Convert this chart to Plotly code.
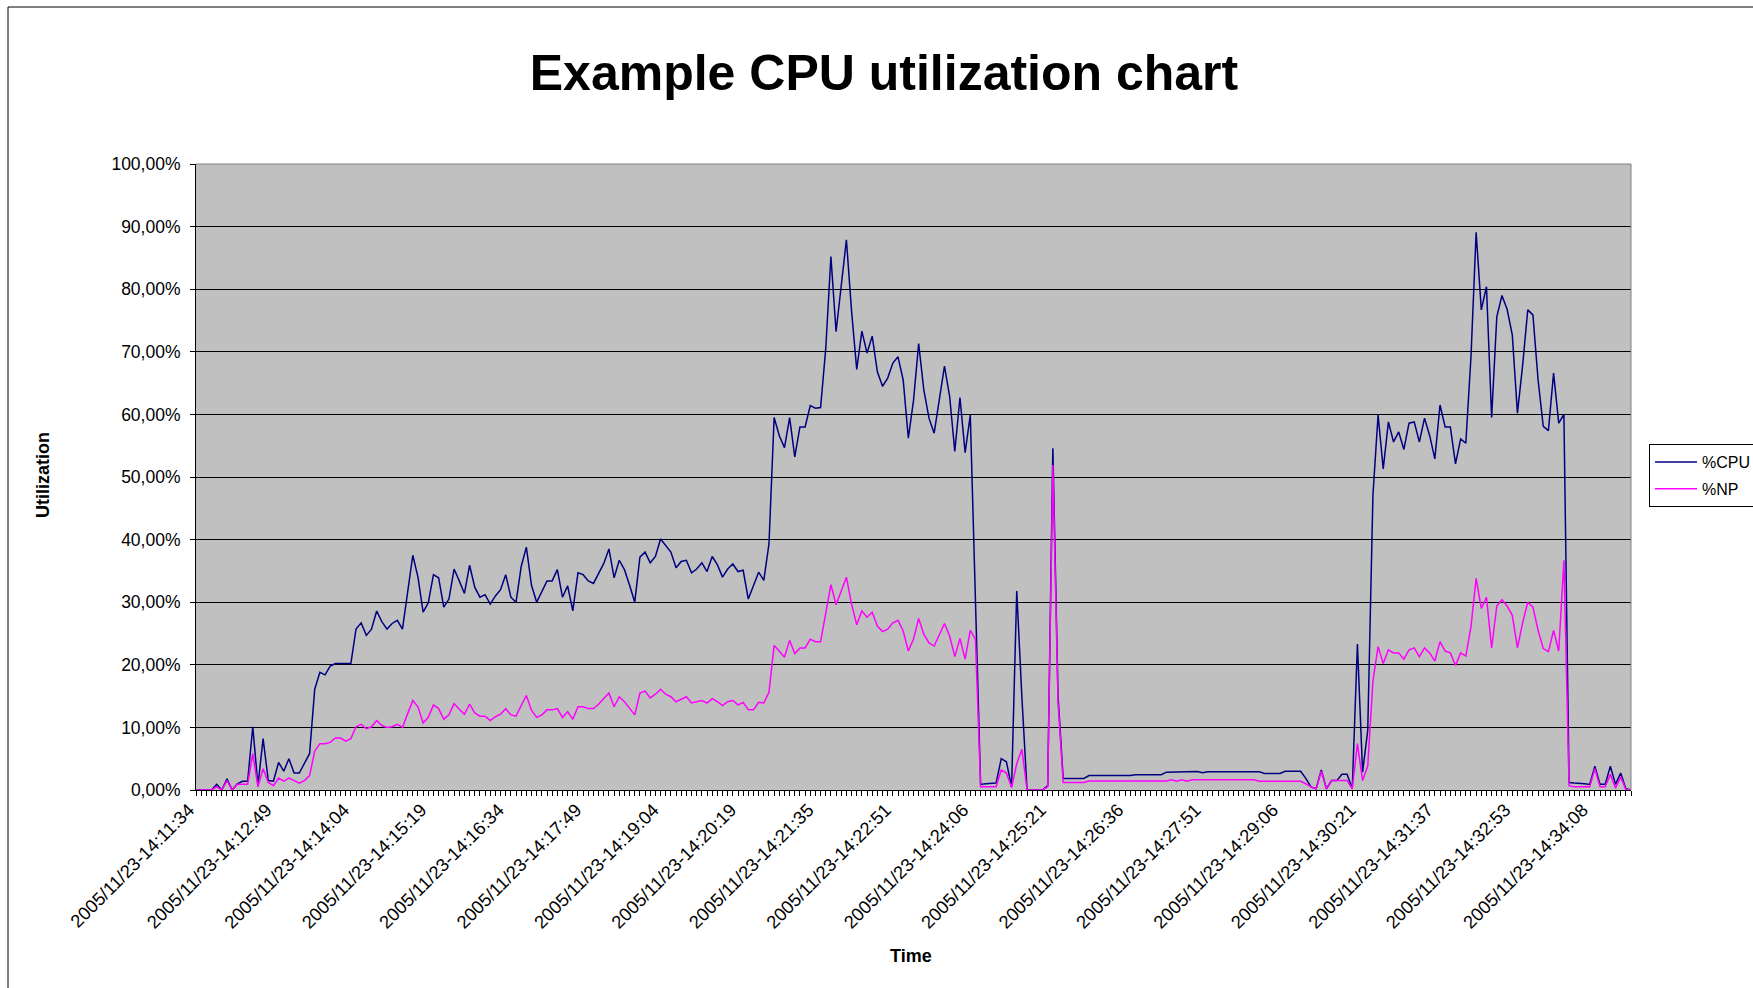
import plotly.graph_objects as go

# ---------------- data ----------------
tick_labels = [
    "2005/11/23-14:11:34", "2005/11/23-14:12:49", "2005/11/23-14:14:04",
    "2005/11/23-14:15:19", "2005/11/23-14:16:34", "2005/11/23-14:17:49",
    "2005/11/23-14:19:04", "2005/11/23-14:20:19", "2005/11/23-14:21:35",
    "2005/11/23-14:22:51", "2005/11/23-14:24:06", "2005/11/23-14:25:21",
    "2005/11/23-14:26:36", "2005/11/23-14:27:51", "2005/11/23-14:29:06",
    "2005/11/23-14:30:21", "2005/11/23-14:31:37", "2005/11/23-14:32:53",
    "2005/11/23-14:34:08",
]
tick_every = 15

cpu = [
    0, 0, 0, 0, 0.9, 0, 1.8, 0, 1.0, 1.4,
    1.4, 10.1, 0.7, 8.2, 1.5, 1.4, 4.4, 3.0, 5.0, 2.7,
    2.7, 4.3, 5.8, 16.1, 18.8, 18.4, 19.8, 20.2, 20.2, 20.2,
    20.2, 25.7, 26.7, 24.7, 25.7, 28.6, 26.9, 25.7, 26.6, 27.1,
    25.7, 31.6, 37.5, 34.0, 28.4, 29.9, 34.4, 33.9, 29.2, 30.5,
    35.3, 33.4, 31.4, 35.9, 32.4, 30.8, 31.2, 29.7, 31.0, 32.0,
    34.4, 30.8, 30.0, 35.7, 38.8, 32.7, 30.0, 31.7, 33.4, 33.4,
    35.2, 30.8, 32.6, 28.6, 34.7, 34.4, 33.4, 33.0, 34.7, 36.2,
    38.5, 33.9, 36.7, 35.2, 32.7, 30.0, 37.2, 38.0, 36.3, 37.3,
    40.1, 39.0, 38.0, 35.5, 36.5, 36.7, 34.7, 35.3, 36.3, 34.9,
    37.3, 36.0, 34.0, 35.3, 36.1, 34.9, 35.1, 30.5, 32.7, 34.8,
    33.5, 39.3, 59.5, 56.6, 54.7, 59.5, 53.2, 58.0, 58.0, 61.4,
    61.0, 61.1, 70.5, 85.2, 73.2, 80.5, 87.9, 76.5, 67.2, 73.3,
    69.8, 72.5, 66.8, 64.5, 65.8, 68.2, 69.2, 65.5, 56.2, 62.2,
    71.3, 63.9, 59.4, 57.0, 62.2, 67.7, 62.9, 54.1, 62.7, 53.9,
    59.9, 29.0, 0.9, 1.0, 1.0, 1.1, 5.0, 4.5, 0.5, 31.8,
    14.8, 0, 0, 0, 0, 0.7, 54.6, 15.0, 1.85, 1.85,
    1.85, 1.85, 1.85, 2.3, 2.3, 2.3, 2.3, 2.3, 2.3, 2.3,
    2.3, 2.3, 2.45, 2.45, 2.45, 2.45, 2.45, 2.45, 2.85, 2.85,
    2.85, 2.85, 2.85, 2.85, 2.95, 2.75, 2.9, 2.9, 2.9, 2.9,
    2.9, 2.9, 2.9, 2.9, 2.9, 2.9, 2.9, 2.65, 2.65, 2.65,
    2.65, 3.0, 3.0, 3.0, 3.0, 1.85, 0.5, 0.2, 3.2, 0.2,
    1.5, 1.5, 2.5, 2.5, 0.2, 23.3, 2.85, 9.5, 47.0, 59.9,
    51.3, 58.8, 55.6, 57.2, 54.4, 58.6, 58.8, 55.6, 59.4, 56.6,
    52.9, 61.5, 58.0, 58.0, 52.1, 56.1, 55.4, 69.2, 89.1, 76.7,
    80.4, 59.5, 75.6, 79.0, 76.8, 72.7, 60.2, 67.8, 76.7, 75.9,
    65.5, 58.1, 57.4, 66.6, 58.6, 60.0, 1.2, 1.1, 1.1, 1.0,
    0.9, 3.8, 0.9, 0.9, 3.8, 0.9, 2.7, 0.2, 0.0,
]

np_util = [
    0, 0, 0, 0, 0.5, 0, 1.5, 0, 0.9, 0.9,
    0.9, 5.8, 0.5, 3.4, 1.2, 0.7, 1.9, 1.4, 1.9, 1.5,
    1.1, 1.5, 2.3, 6.2, 7.4, 7.4, 7.6, 8.3, 8.3, 7.8,
    8.2, 10.1, 10.5, 9.8, 10.1, 11.1, 10.3, 10.0, 10.1, 10.5,
    10.0, 12.2, 14.3, 13.3, 10.7, 11.6, 13.6, 13.0, 11.3, 12.0,
    13.8, 12.9, 12.1, 13.7, 12.3, 11.8, 11.8, 11.1, 11.7, 12.1,
    13.0, 12.0, 11.8, 13.5, 15.1, 12.7, 11.6, 12.0, 12.8, 12.8,
    13.0, 11.6, 12.5, 11.3, 13.3, 13.3, 13.0, 13.0, 13.7, 14.6,
    15.5, 13.3, 14.9, 14.1, 13.1, 12.0, 15.5, 15.8, 14.7, 15.3,
    16.1, 15.3, 14.9, 14.1, 14.5, 14.9, 13.9, 14.1, 14.3, 13.9,
    14.6, 14.1, 13.5, 14.1, 14.3, 13.6, 14.0, 12.8, 12.8, 14.0,
    13.9, 15.6, 23.1, 22.2, 21.2, 23.9, 21.8, 22.7, 22.7, 24.1,
    23.7, 23.7, 28.1, 32.8, 29.6, 31.7, 34.0, 29.7, 26.4, 28.6,
    27.6, 28.4, 26.2, 25.3, 25.7, 26.7, 27.1, 25.4, 22.2, 24.1,
    27.4, 24.9, 23.5, 23.0, 24.7, 26.6, 24.6, 21.3, 24.2, 20.9,
    25.5, 24.1, 0.5, 0.5, 0.5, 0.5, 3.2, 2.7, 0.4, 4.2,
    6.5, 0, 0, 0, 0, 0.5, 51.9, 14.0, 1.2, 1.2,
    1.2, 1.2, 1.2, 1.45, 1.45, 1.45, 1.45, 1.45, 1.45, 1.45,
    1.45, 1.45, 1.45, 1.45, 1.45, 1.45, 1.45, 1.45, 1.45, 1.65,
    1.4, 1.65, 1.4, 1.65, 1.65, 1.65, 1.65, 1.65, 1.65, 1.65,
    1.65, 1.65, 1.65, 1.65, 1.65, 1.65, 1.4, 1.4, 1.4, 1.4,
    1.4, 1.4, 1.4, 1.4, 1.4, 1.0, 0.5, 0.2, 3.0, 0.2,
    1.5, 1.5, 1.5, 1.5, 0.2, 7.4, 1.5, 3.8, 17.4, 22.9,
    20.2, 22.4, 21.9, 21.9, 20.9, 22.4, 22.7, 21.3, 22.7, 21.9,
    20.6, 23.7, 22.2, 21.9, 19.9, 21.9, 21.4, 26.1, 33.8, 29.0,
    30.8, 22.7, 29.4, 30.4, 29.4, 27.9, 22.7, 26.7, 30.0, 29.2,
    25.5, 22.6, 22.1, 25.5, 22.2, 36.7, 0.7, 0.5, 0.5, 0.5,
    0.5, 3.4, 0.5, 0.5, 2.5, 0.3, 2.1, 0.1, 0.0,
]

y_ticks = [0, 10, 20, 30, 40, 50, 60, 70, 80, 90, 100]
y_tick_text = [f"{v:.2f}".replace(".", ",") + "%" for v in y_ticks]

# ---------------- layout geometry ----------------
W, H = 1753, 988
PL, PR, PT, PB = 196, 1631, 164, 790   # plot area in pixels
pw, ph = PR - PL, PB - PT


def px(xp):
    return (xp - PL) / pw


def py(yp):
    return (PB - yp) / ph


FONT = "Liberation Sans, Arial, Helvetica, sans-serif"

sample_idx = list(range(len(cpu)))
tick_pos = [i * tick_every for i in range(len(tick_labels))]

fig = go.Figure()
fig.add_trace(go.Scatter(x=sample_idx, y=cpu, mode="lines", name="%CPU",
                         line=dict(color="#000080", width=1.5), legendgroup="cpu"))
fig.add_trace(go.Scatter(x=sample_idx, y=np_util, mode="lines", name="%NP",
                         line=dict(color="#FF00FF", width=1.5), legendgroup="np"))

fig.update_layout(
    width=W, height=H,
    margin=dict(l=PL, r=W - PR, t=PT, b=H - PB, autoexpand=False),
    paper_bgcolor="white", plot_bgcolor="#C0C0C0",
    font=dict(family=FONT, color="black", size=17),
    title=dict(text="<b>Example CPU utilization chart</b>", x=884 / W, xanchor="center",
               y=1 - 72 / H, yanchor="middle", xref="container", yref="container",
               font=dict(size=50, family=FONT, color="black")),
    showlegend=True,
    legend=dict(x=px(1649), y=py(444), xanchor="left", yanchor="top",
                bgcolor="white", bordercolor="black", borderwidth=1,
                font=dict(size=16, family=FONT), tracegroupgap=3, itemwidth=42),
    xaxis=dict(range=[0, len(cpu) - 1], tickmode="array", tickvals=tick_pos,
               ticktext=tick_labels, tickangle=-45, ticks="outside", ticklen=5,
               tickcolor="black", showgrid=False, showline=True, linecolor="black",
               linewidth=1, zeroline=False, tickfont=dict(size=18.3),
               ticklabelshift=-7, ticklabelstandoff=-4,
               minor=dict(tickmode="linear", tick0=0, dtick=1, ticks="outside",
                          ticklen=5, tickcolor="black", showgrid=False)),
    yaxis=dict(range=[0, 100], tickmode="array", tickvals=y_ticks, ticktext=y_tick_text,
               showgrid=True, gridcolor="black", gridwidth=1,
               ticks="outside", ticklen=5, tickcolor="black", showline=True,
               linecolor="black", linewidth=1, zeroline=False,
               tickfont=dict(size=17.5), ticklabelstandoff=6),
    annotations=[
        dict(text="<b>Time</b>", x=px(911), y=py(956), xref="paper", yref="paper",
             showarrow=False, xanchor="center", yanchor="middle",
             font=dict(size=18, family=FONT)),
        dict(text="<b>Utilization</b>", x=px(43), y=py(475), xref="paper", yref="paper",
             showarrow=False, xanchor="center", yanchor="middle", textangle=-90,
             font=dict(size=18, family=FONT)),
    ],
    shapes=[
        dict(type="line", xref="paper", yref="paper", x0=0, x1=1, y0=1, y1=1,
             line=dict(color="#808080", width=1), layer="above"),
        dict(type="line", xref="paper", yref="paper", x0=1, x1=1, y0=0, y1=1,
             line=dict(color="#808080", width=1), layer="above"),
        dict(type="line", xref="paper", yref="paper", x0=px(8), x1=px(8),
             y0=py(7), y1=py(1000), line=dict(color="black", width=1)),
        dict(type="line", xref="paper", yref="paper", x0=px(8), x1=px(1770),
             y0=py(7), y1=py(7), line=dict(color="black", width=1)),
    ],
)

fig.write_html(
    "out.html",
    config={"displayModeBar": False},
    post_script="document.body.style.margin='0';document.body.style.padding='0';"
                "document.body.style.overflow='hidden';",
)
